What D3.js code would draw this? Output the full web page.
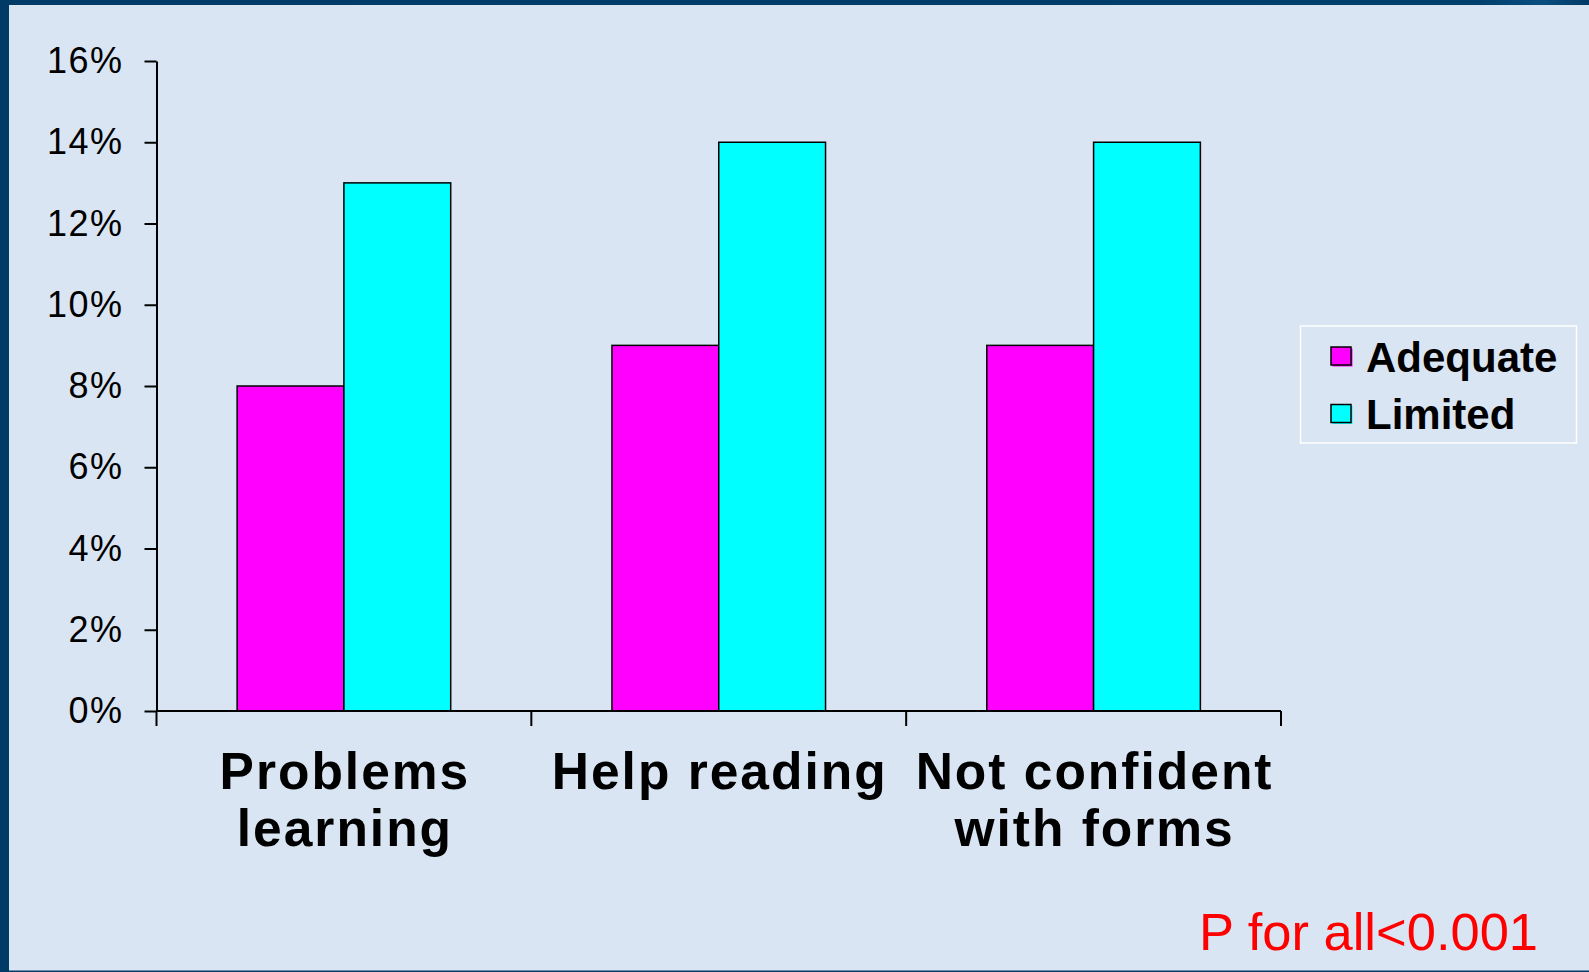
<!DOCTYPE html>
<html>
<head>
<meta charset="utf-8">
<script src="https://cdn.jsdelivr.net/npm/d3@7"></script>
<style>
  html, body { margin: 0; padding: 0; background: #D9E5F3; }
  svg { display: block; }
  text { font-family: "Liberation Sans", Arial, sans-serif; }
</style>
</head>
<body>
<svg id="chart" width="1589" height="972"></svg>
<script>
// Survey items shown along the horizontal axis (each label split onto lines)
const categories = ["Problems learning", "Help reading", "Not confident with forms"];
const categoryLines = [["Problems", "learning"], ["Help reading"], ["Not confident", "with forms"]];
// Health literacy groups
const series = ["Adequate", "Limited"];
const seriesColors = ["#FF00FF", "#00FFFF"];
// Percent reporting each item
const adequateValues = [8, 9, 9];
const limitedValues = [13, 14, 14];
// Vertical axis ticks
const yTicks = [0, 2, 4, 6, 8, 10, 12, 14, 16];
const note = "P for all<0.001";

const values = [adequateValues, limitedValues];
const rows = categories.map((c, i) => ({
  category: c,
  entries: series.map((s, j) => ({ series: s, value: values[j][i], color: seriesColors[j] }))
}));

const W = 1589, H = 972;
const svg = d3.select("#chart");

// Frame: light panel with a dark blue border on the left, top and bottom
svg.append("rect").attr("width", W).attr("height", H).attr("fill", "#D9E5F3");
const grad = svg.append("defs").append("linearGradient").attr("id", "topband")
  .attr("x1", "0").attr("x2", "1").attr("y1", "0").attr("y2", "0");
grad.append("stop").attr("offset", "0").attr("stop-color", "#003B68");
grad.append("stop").attr("offset", "0.93").attr("stop-color", "#003E6C");
grad.append("stop").attr("offset", "0.97").attr("stop-color", "#0A4F80");
grad.append("stop").attr("offset", "1").attr("stop-color", "#003A66");
svg.append("rect").attr("x", 0).attr("y", 0).attr("width", W).attr("height", 5).attr("fill", "url(#topband)");
svg.append("rect").attr("x", 0).attr("y", 0).attr("width", 9).attr("height", H).attr("fill", "#003B68");
svg.append("rect").attr("x", 0).attr("y", H - 1.5).attr("width", W).attr("height", 1.5).attr("fill", "#003B68");

const plot = { left: 156.5, right: 1281, top: 61, bottom: 711 };

const x0 = d3.scaleBand().domain(categories).range([plot.left, plot.right]).padding(0);
const x1 = d3.scaleBand().domain(series).range([0, x0.bandwidth()]).paddingInner(0).paddingOuter(0.755);
const y = d3.scaleLinear().domain([0, 16]).range([plot.bottom, plot.top]);

// Bars
const groups = svg.append("g").selectAll("g").data(rows).join("g")
  .attr("transform", d => `translate(${x0(d.category)},0)`);
groups.selectAll("rect").data(d => d.entries).join("rect")
  .attr("x", d => x1(d.series))
  .attr("y", d => y(d.value))
  .attr("width", x1.bandwidth())
  .attr("height", d => y(0) - y(d.value))
  .attr("fill", d => d.color)
  .attr("stroke", "#000")
  .attr("stroke-width", 1.5);

// Y axis
const yAxis = svg.append("g").attr("transform", `translate(${plot.left},0)`)
  .call(d3.axisLeft(y).tickValues(yTicks).tickFormat(d => d + "%").tickSize(12).tickSizeOuter(0).tickPadding(21));
yAxis.select(".domain").attr("stroke", "#000").attr("stroke-width", 2);
yAxis.selectAll(".tick line").attr("stroke", "#000").attr("stroke-width", 2);
yAxis.selectAll(".tick text")
  .attr("font-size", 36).attr("fill", "#000").attr("letter-spacing", 1.5)
  .attr("font-family", "'Liberation Sans', Arial, sans-serif");

// X axis line with ticks at the category boundaries
const xAxis = svg.append("g");
xAxis.append("line")
  .attr("x1", x0.range()[0]).attr("x2", x0.range()[1])
  .attr("y1", y(0)).attr("y2", y(0))
  .attr("stroke", "#000").attr("stroke-width", 2);
const boundaries = categories.map(c => x0(c)).concat([x0.range()[1]]);
xAxis.selectAll("line.tick").data(boundaries).join("line").attr("class", "tick")
  .attr("x1", d => d).attr("x2", d => d)
  .attr("y1", y(0)).attr("y2", y(0) + 15)
  .attr("stroke", "#000").attr("stroke-width", 2);

// Category labels
const labels = svg.append("g").selectAll("text").data(categories).join("text")
  .attr("x", d => x0(d) + x0.bandwidth() / 2 + 1)
  .attr("y", 789)
  .attr("text-anchor", "middle")
  .attr("font-size", 51.5).attr("font-weight", "bold").attr("fill", "#000")
  .attr("letter-spacing", 2);
labels.selectAll("tspan").data((d, i) => categoryLines[i]).join("tspan")
  .attr("x", function () { return d3.select(this.parentNode).attr("x"); })
  .attr("dy", (d, i) => i === 0 ? 0 : 57)
  .text(d => d);

// Legend
const legend = svg.append("g");
legend.append("rect")
  .attr("x", 1300.5).attr("y", 326).attr("width", 276).attr("height", 117)
  .attr("fill", "none").attr("stroke", "#FFFFFF").attr("stroke-width", 1.5);
const legendRows = legend.selectAll("g").data(series).join("g")
  .attr("transform", (d, i) => `translate(1331,${347 + i * 57.5})`);
legendRows.append("rect")
  .attr("x", 1.5).attr("y", 1.5).attr("width", 20).attr("height", 18)
  .attr("fill", (d, i) => seriesColors[i]);
legendRows.append("rect")
  .attr("width", 20).attr("height", 18)
  .attr("fill", (d, i) => seriesColors[i]).attr("stroke", "#000").attr("stroke-width", 1.5);
legendRows.append("text")
  .attr("x", 35).attr("y", 24.5)
  .attr("font-size", 42).attr("font-weight", "bold").attr("fill", "#000")
  .text(d => d);

// Significance note
svg.append("text")
  .attr("x", 1199).attr("y", 950)
  .attr("font-size", 52.5).attr("fill", "#FF0000")
  .text(note);
</script>
</body>
</html>
